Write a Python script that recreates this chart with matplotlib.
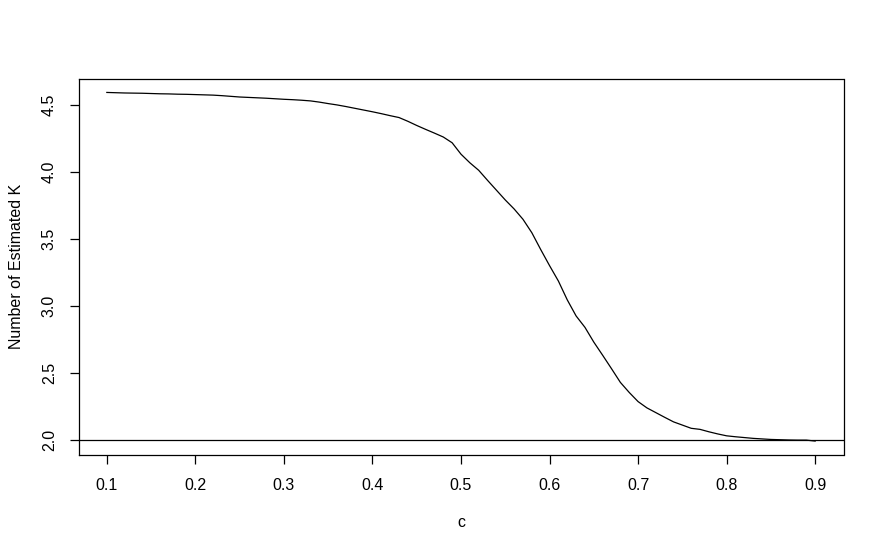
import numpy as np
import matplotlib
matplotlib.use("Agg")
import matplotlib.pyplot as plt

# c values (0.10 .. 0.90, step 0.01)
c_values = [round(0.10 + 0.01 * i, 2) for i in range(81)]
num_estimated_k = [
    4.590, 4.588, 4.586, 4.585, 4.584, 4.582, 4.580, 4.579, 4.577, 4.576,
    4.574, 4.572, 4.570, 4.566, 4.561, 4.556, 4.553, 4.550, 4.547, 4.543,
    4.539, 4.536, 4.532, 4.527, 4.518, 4.507, 4.497, 4.485, 4.472, 4.459,
    4.446, 4.432, 4.417, 4.403, 4.375, 4.344, 4.315, 4.287, 4.258, 4.215,
    4.130, 4.066, 4.010, 3.935, 3.862, 3.789, 3.722, 3.645, 3.545, 3.420,
    3.300, 3.185, 3.045, 2.925, 2.840, 2.730, 2.632, 2.532, 2.430, 2.355,
    2.287, 2.240, 2.205, 2.170, 2.136, 2.112, 2.088, 2.080, 2.062, 2.046,
    2.032, 2.025, 2.019, 2.013, 2.009, 2.005, 2.003, 2.001, 2.000, 2.000,
    1.993,
]
reference_k = 2.0
x_ticks = [0.1, 0.2, 0.3, 0.4, 0.5, 0.6, 0.7, 0.8, 0.9]
x_tick_labels = ["0.1", "0.2", "0.3", "0.4", "0.5", "0.6", "0.7", "0.8", "0.9"]
y_ticks = [2.0, 2.5, 3.0, 3.5, 4.0, 4.5]
y_tick_labels = ["2.0", "2.5", "3.0", "3.5", "4.0", "4.5"]

plt.rcParams['font.family'] = ['Liberation Sans', 'DejaVu Sans']

W, H = 884, 553
fig = plt.figure(figsize=(W / 100, H / 100), dpi=100)
left, right, top, bottom = 78.5, 843.5, 78.5, 455
ax = fig.add_axes([left / W, 1 - bottom / H, (right - left) / W, (bottom - top) / H])

ax.plot(c_values, num_estimated_k, color='black', linewidth=0.9)
ax.axhline(reference_k, color='black', linewidth=0.9)

xmin, xmax = min(c_values), max(c_values)
xr = xmax - xmin
ax.set_xlim(xmin - 0.04 * xr, xmax + 0.04 * xr)
ymin, ymax = min(num_estimated_k), max(num_estimated_k)
yr = ymax - ymin
ax.set_ylim(ymin - 0.04 * yr, ymax + 0.04 * yr)

ax.set_xticks(x_ticks)
ax.set_xticklabels(x_tick_labels)
ax.set_yticks(y_ticks)
ax.set_yticklabels(y_tick_labels, rotation=90, va='center')

for s in ax.spines.values():
    s.set_linewidth(0.9)
    s.set_color('black')

ax.tick_params(axis='both', direction='out', length=6.6, width=0.9,
               labelsize=11.5, colors='black')
ax.tick_params(axis='x', pad=10)
ax.tick_params(axis='y', pad=9)

ax.set_xlabel("c", fontsize=11.5, labelpad=16)
ax.set_ylabel("Number of Estimated K", fontsize=11.5, labelpad=13)

fig.savefig("out.png", dpi=100)
